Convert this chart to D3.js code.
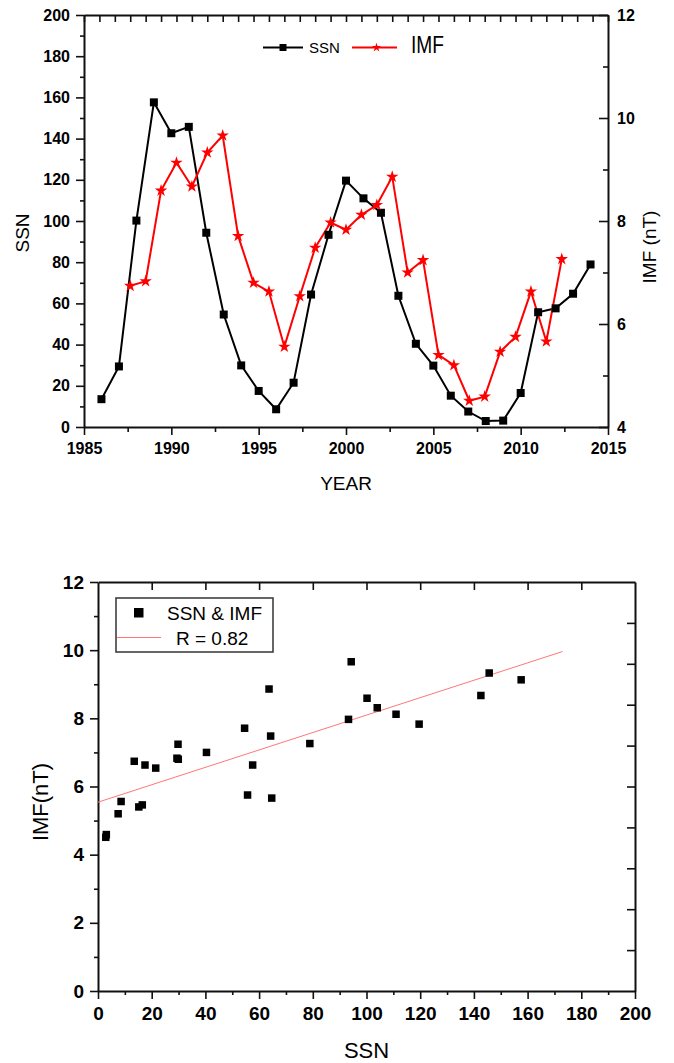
<!DOCTYPE html>
<html>
<head>
<meta charset="utf-8" />
<title>SSN and IMF</title>
<style>
html, body {
    margin: 0px;
    padding: 0px;
    background: #fff;
}
svg text {
    font-family: "Liberation Sans", Arial, sans-serif;
}
</style>
</head>
<body>
<div id="graph"></div>

<script src="https://cdnjs.cloudflare.com/ajax/libs/d3/7.8.5/d3.min.js"></script>
<script>
!(function(){
    "use strict"

    // yearly values
    var years = [1986, 1987, 1988, 1989, 1990, 1991, 1992, 1993, 1994, 1995,
                 1996, 1997, 1998, 1999, 2000, 2001, 2002, 2003, 2004, 2005,
                 2006, 2007, 2008, 2009, 2010, 2011, 2012, 2013, 2014]
    var ssn = [13.5, 29.4, 100.2, 157.6, 142.6, 145.7, 94.3, 54.6, 29.9, 17.5,
               8.6, 21.5, 64.3, 93.3, 119.6, 111.0, 104.0, 63.7, 40.4, 29.8,
               15.2, 7.5, 2.9, 3.1, 16.5, 55.7, 57.6, 64.7, 78.9]
    var imf = [6.74, 6.83, 8.59, 9.13, 8.67, 9.33, 9.66, 7.71, 6.80, 6.63,
               5.56, 6.54, 7.48, 7.97, 7.83, 8.12, 8.31, 8.86, 7.00, 7.24,
               5.40, 5.20, 4.51, 4.59, 5.46, 5.75, 6.63, 5.66, 7.26]

    // linear fit shown in the scatter plot
    var fitSSN = [0, 173]
    var fitIMF = [5.54, 9.96]

    // tick values
    var yearTicks = [1985, 1990, 1995, 2000, 2005, 2010, 2015]
    var yearMinor = [1987.5, 1992.5, 1997.5, 2002.5, 2007.5, 2012.5]
    var ssnTicks = [0, 20, 40, 60, 80, 100, 120, 140, 160, 180, 200]
    var ssnMinor = [10, 30, 50, 70, 90, 110, 130, 150, 170, 190]
    var imfTicks = [4, 6, 8, 10, 12]
    var imfMinor = [5, 7, 9, 11]
    var scatterYTicks = [0, 2, 4, 6, 8, 10, 12]
    var scatterYMinor = [1, 3, 5, 7, 9, 11]
    var scatterRightTicks = [1.2, 2.4, 3.6, 4.8, 6, 7.2, 8.4, 9.6, 10.8]

    var width = 674, height = 1063
    var font = "'Liberation Sans', Arial, sans-serif"

    var svg = d3.select("#graph").append("svg")
        .attr("width", width).attr("height", height)

    function styleAxis(g, size) {
        g.attr("font-family", font).attr("font-size", size).attr("font-weight", "bold")
        g.selectAll("text").attr("fill", "#000")
        g.selectAll(".tick line").attr("stroke", "#111").attr("stroke-width", 1.6)
        g.select(".domain").attr("stroke", "#111").attr("stroke-width", 2)
        return g
    }

    function noDomain(g) {
        g.select(".domain").remove()
        return g
    }

    // ---------------- top chart: time series ----------------
    var t = {left: 84, right: 608, top: 15, bottom: 427}

    var xYear = d3.scaleLinear().domain([1985, 2015]).range([t.left, t.right])
    var xTop = d3.scaleLinear().domain([1983, 2017]).range([t.left, t.right])
    var ySsn = d3.scaleLinear().domain([0, 200]).range([t.bottom, t.top])
    var yImf = d3.scaleLinear().domain([4, 12]).range([t.bottom, t.top])

    var top = svg.append("g")

    // minor ticks first, then majors with the frame lines
    noDomain(styleAxis(top.append("g").attr("transform", "translate(0," + t.bottom + ")")
        .call(d3.axisBottom(xYear).tickValues(yearMinor).tickSize(5).tickFormat("")), 16))
    noDomain(styleAxis(top.append("g").attr("transform", "translate(" + t.left + ",0)")
        .call(d3.axisLeft(ySsn).tickValues(ssnMinor).tickSize(4).tickFormat("")), 16))
    noDomain(styleAxis(top.append("g").attr("transform", "translate(" + t.right + ",0)")
        .call(d3.axisRight(yImf).tickValues(imfMinor).tickSizeInner(-5).tickSizeOuter(0).tickFormat("")), 16))

    styleAxis(top.append("g").attr("transform", "translate(0," + t.top + ")")
        .call(d3.axisBottom(xTop).ticks(34).tickSizeInner(7).tickSizeOuter(0).tickFormat("")), 16)
    styleAxis(top.append("g").attr("transform", "translate(0," + t.bottom + ")")
        .call(d3.axisBottom(xYear).tickValues(yearTicks).tickSizeInner(8).tickSizeOuter(0)
            .tickPadding(8).tickFormat(d3.format("d"))), 16)
    styleAxis(top.append("g").attr("transform", "translate(" + t.left + ",0)")
        .call(d3.axisLeft(ySsn).tickValues(ssnTicks).tickSizeInner(8).tickSizeOuter(0).tickPadding(6)), 16)
    styleAxis(top.append("g").attr("transform", "translate(" + t.right + ",0)")
        .call(d3.axisRight(yImf).tickValues(imfTicks).tickSizeInner(-9).tickSizeOuter(0).tickPadding(9)), 16)

    // axis titles
    top.append("text").attr("x", (t.left + t.right) / 2).attr("y", 490)
        .attr("text-anchor", "middle").attr("font-size", 19).text("YEAR")
    top.append("text").attr("transform", "translate(29,233) rotate(-90)")
        .attr("text-anchor", "middle").attr("font-size", 19).text("SSN")
    top.append("text").attr("transform", "translate(656,247) rotate(-90)")
        .attr("text-anchor", "middle").attr("font-size", 19).text("IMF (nT)")

    var ssnLine = d3.line()
        .x(function(d, i) { return xYear(years[i]) })
        .y(function(d) { return ySsn(d) })
    var imfLine = d3.line()
        .x(function(d, i) { return xTop(years[i]) })
        .y(function(d) { return yImf(d) })

    top.append("path").datum(ssn).attr("d", ssnLine)
        .attr("fill", "none").attr("stroke", "#000").attr("stroke-width", 2)
    top.append("path").datum(imf).attr("d", imfLine)
        .attr("fill", "none").attr("stroke", "#ff0000").attr("stroke-width", 2)

    var sq = 8
    top.selectAll(".ssnpt").data(ssn).enter().append("rect")
        .attr("class", "ssnpt")
        .attr("x", function(d, i) { return xYear(years[i]) - sq / 2 })
        .attr("y", function(d) { return ySsn(d) - sq / 2 })
        .attr("width", sq).attr("height", sq).attr("fill", "#000")

    var star = d3.symbol().type(d3.symbolStar).size(48)
    top.selectAll(".imfpt").data(imf).enter().append("path")
        .attr("class", "imfpt")
        .attr("d", star)
        .attr("transform", function(d, i) { return "translate(" + xTop(years[i]) + "," + yImf(d) + ")" })
        .attr("fill", "#ff0000")

    // legend
    var lg = top.append("g")
    lg.append("line").attr("x1", 263).attr("x2", 303).attr("y1", 47.5).attr("y2", 47.5)
        .attr("stroke", "#000").attr("stroke-width", 2)
    lg.append("rect").attr("x", 279.5).attr("y", 44).attr("width", 7).attr("height", 7).attr("fill", "#000")
    lg.append("text").attr("x", 309).attr("y", 52.5).attr("font-size", 15).text("SSN")
    lg.append("line").attr("x1", 352).attr("x2", 397).attr("y1", 47.5).attr("y2", 47.5)
        .attr("stroke", "#ff0000").attr("stroke-width", 2)
    lg.append("path").attr("d", d3.symbol().type(d3.symbolStar).size(26))
        .attr("transform", "translate(376.5,47.5)").attr("fill", "#ff0000")
    lg.append("text").attr("x", 411).attr("y", 52.5).attr("font-size", 23)
        .attr("textLength", 33).attr("lengthAdjust", "spacingAndGlyphs").text("IMF")

    // ---------------- bottom chart: scatter ----------------
    var b = {left: 98, right: 635, top: 582, bottom: 991}

    var xS = d3.scaleLinear().domain([0, 200]).range([b.left, b.right])
    var yS = d3.scaleLinear().domain([0, 12]).range([b.bottom, b.top])

    var bot = svg.append("g")

    noDomain(styleAxis(bot.append("g").attr("transform", "translate(0," + b.bottom + ")")
        .call(d3.axisBottom(xS).tickValues(ssnMinor).tickSize(4).tickFormat("")), 19))
    noDomain(styleAxis(bot.append("g").attr("transform", "translate(" + b.left + ",0)")
        .call(d3.axisLeft(yS).tickValues(scatterYMinor).tickSize(4).tickFormat("")), 19))

    styleAxis(bot.append("g").attr("transform", "translate(0," + b.top + ")")
        .call(d3.axisBottom(xS).tickValues(ssnTicks.slice(1, -1)).tickSizeInner(8).tickSizeOuter(0).tickFormat("")), 19)
    styleAxis(bot.append("g").attr("transform", "translate(" + b.right + ",0)")
        .call(d3.axisRight(yS).tickValues(scatterRightTicks).tickSizeInner(-8).tickSizeOuter(0).tickFormat("")), 19)
    styleAxis(bot.append("g").attr("transform", "translate(0," + b.bottom + ")")
        .call(d3.axisBottom(xS).tickValues(ssnTicks).tickSizeInner(8).tickSizeOuter(0).tickPadding(8)), 19)
    styleAxis(bot.append("g").attr("transform", "translate(" + b.left + ",0)")
        .call(d3.axisLeft(yS).tickValues(scatterYTicks).tickSizeInner(8).tickSizeOuter(0).tickPadding(6)), 19)

    bot.append("text").attr("x", (b.left + b.right) / 2).attr("y", 1058)
        .attr("text-anchor", "middle").attr("font-size", 22).text("SSN")
    bot.append("text").attr("transform", "translate(48,802) rotate(-90)")
        .attr("text-anchor", "middle").attr("font-size", 22).text("IMF(nT)")

    // fit line
    bot.append("line")
        .attr("x1", xS(fitSSN[0])).attr("y1", yS(fitIMF[0]))
        .attr("x2", xS(fitSSN[1])).attr("y2", yS(fitIMF[1]))
        .attr("stroke", "#f77").attr("stroke-width", 1)

    var sq2 = 7.5
    bot.selectAll(".pt").data(ssn).enter().append("rect")
        .attr("class", "pt")
        .attr("x", function(d) { return xS(d) - sq2 / 2 })
        .attr("y", function(d, i) { return yS(imf[i]) - sq2 / 2 })
        .attr("width", sq2).attr("height", sq2).attr("fill", "#000")

    // legend box
    var lb = bot.append("g")
    lb.append("rect").attr("x", 116).attr("y", 598).attr("width", 157).attr("height", 54)
        .attr("fill", "#fff").attr("stroke", "#333").attr("stroke-width", 1.5)
    lb.append("rect").attr("x", 134).attr("y", 608).attr("width", 9.5).attr("height", 9.5).attr("fill", "#000")
    lb.append("text").attr("x", 167).attr("y", 620).attr("font-size", 19).text("SSN & IMF")
    lb.append("line").attr("x1", 117).attr("x2", 161).attr("y1", 637.5).attr("y2", 637.5)
        .attr("stroke", "#f77").attr("stroke-width", 1)
    lb.append("text").attr("x", 176).attr("y", 645).attr("font-size", 19).text("R = 0.82")
}());
</script>
</body>
</html>
